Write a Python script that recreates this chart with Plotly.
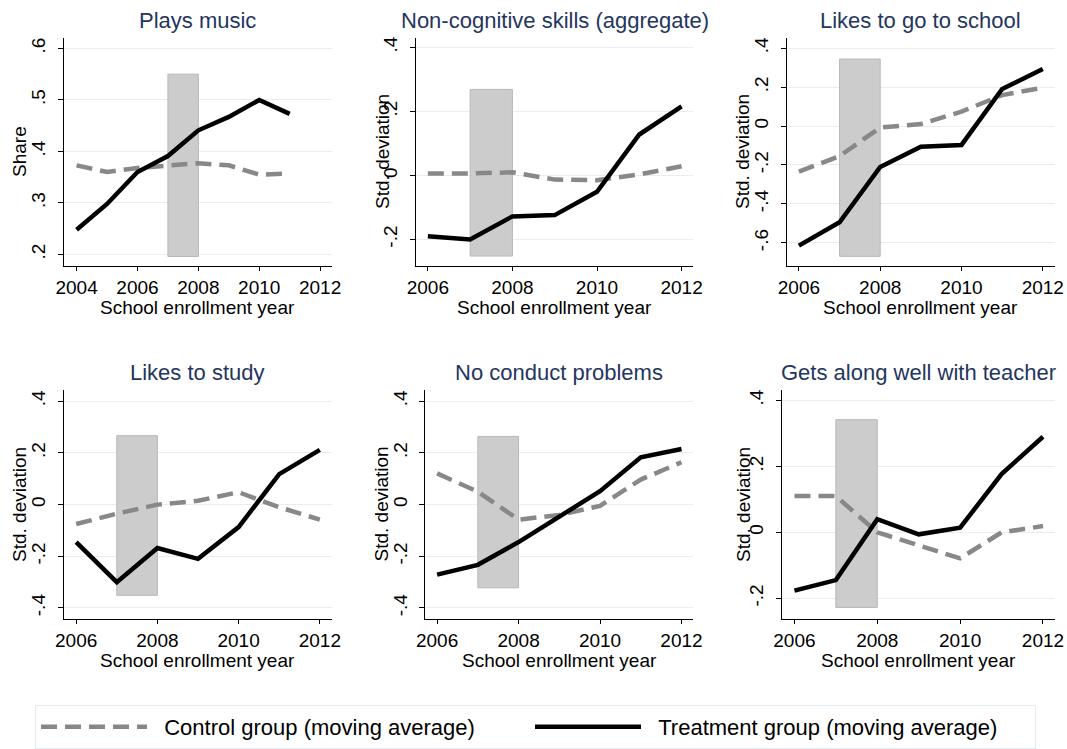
import plotly.graph_objects as go

W, H = 1067, 749

# ---- data ----
years_music = [2004, 2005, 2006, 2007, 2008, 2009, 2010, 2011]
years = [2006, 2007, 2008, 2009, 2010, 2011, 2012]

music_treat = [0.248, 0.298, 0.360, 0.391, 0.441, 0.467, 0.500, 0.473]
music_ctrl = [0.373, 0.360, 0.368, 0.372, 0.377, 0.373, 0.355, 0.357]

noncog_treat = [-0.190, -0.200, -0.128, -0.124, -0.051, 0.128, 0.216]
noncog_ctrl = [0.006, 0.006, 0.010, -0.013, -0.015, 0.003, 0.029]

school_treat = [-0.614, -0.494, -0.210, -0.106, -0.097, 0.190, 0.293]
school_ctrl = [-0.234, -0.154, -0.008, 0.010, 0.074, 0.159, 0.197]

study_treat = [-0.145, -0.300, -0.168, -0.210, -0.087, 0.118, 0.212]
study_ctrl = [-0.075, -0.035, 0.000, 0.015, 0.048, -0.010, -0.058]

conduct_treat = [-0.271, -0.233, -0.145, -0.049, 0.052, 0.183, 0.215]
conduct_ctrl = [0.121, 0.050, -0.058, -0.040, -0.005, 0.097, 0.164]

teacher_treat = [-0.177, -0.145, 0.040, -0.006, 0.014, 0.177, 0.290]
teacher_ctrl = [0.110, 0.110, 0.000, -0.040, -0.079, 0.000, 0.019]

titles = ["Plays music", "Non-cognitive skills (aggregate)", "Likes to go to school",
          "Likes to study", "No conduct problems", "Gets along well with teacher"]
ytitles = ["Share"] + ["Std. deviation"] * 5
series_names = ["Control group (moving average)", "Treatment group (moving average)"]

band_x = [2007, 2008]
band_lo = [0.196, -0.252, -0.669, -0.351, -0.322, -0.228]
band_hi = [0.550, 0.269, 0.344, 0.267, 0.264, 0.342]

yticks_music = [0.2, 0.3, 0.4, 0.5, 0.6]
yticks_a = [-0.2, 0, 0.2, 0.4]
yticks_b = [-0.6, -0.4, -0.2, 0, 0.2, 0.4]
yticks_c = [-0.4, -0.2, 0, 0.2, 0.4]
xticks_music = [2004, 2006, 2008, 2010, 2012]
xticks = [2006, 2008, 2010, 2012]

# ---- panel layout (pixel boxes of plot areas) ----
panels = [
    dict(x=years_music, t=music_treat, c=music_ctrl, box=(63.5, 332, 37.7, 267),
         xr=[2003.57, 2012.39], yr=[0.177, 0.621], yt=yticks_music, xt=xticks_music, ytx=43.5),
    dict(x=years, t=noncog_treat, c=noncog_ctrl, box=(416, 693, 37.7, 267),
         xr=[2005.72, 2012.27], yr=[-0.284, 0.431], yt=yticks_a, xt=xticks, ytx=33),
    dict(x=years, t=school_treat, c=school_ctrl, box=(786.7, 1055, 37.7, 267),
         xr=[2005.7, 2012.3], yr=[-0.72, 0.454], yt=yticks_b, xt=xticks, ytx=43.7),
    dict(x=years, t=study_treat, c=study_ctrl, box=(64, 332, 390.7, 621),
         xr=[2005.7, 2012.3], yr=[-0.444, 0.445], yt=yticks_c, xt=xticks, ytx=44.5),
    dict(x=years, t=conduct_treat, c=conduct_ctrl, box=(425.3, 693.3, 390.7, 621),
         xr=[2005.71, 2012.29], yr=[-0.444, 0.445], yt=yticks_c, xt=xticks, ytx=44.3),
    dict(x=years, t=teacher_treat, c=teacher_ctrl, box=(782, 1055, 390.7, 621),
         xr=[2005.70, 2012.29], yr=[-0.264, 0.433], yt=yticks_a, xt=xticks, ytx=38.5),
]

FONT = "Liberation Sans, Arial, sans-serif"
TITLE_COLOR = "#24365e"
GRID = "#e6eef1"


def stata_label(v):
    s = f"{v:g}"
    if s.startswith("0."):
        s = s[1:]
    elif s.startswith("-0."):
        s = "-" + s[2:]
    return s


fig = go.Figure()
annotations = []
shapes = []

for i, p in enumerate(panels):
    n = "" if i == 0 else str(i + 1)
    xa, ya = "x" + n, "y" + n
    first = i == 0
    fig.add_trace(go.Scatter(
        x=p["x"], y=p["c"], mode="lines", xaxis=xa, yaxis=ya,
        name="\u00a0\u00a0" + series_names[0], showlegend=first, legendrank=1,
        line=dict(color="#888888", width=4.5, dash="16px,8px")))
    fig.add_trace(go.Scatter(
        x=p["x"], y=p["t"], mode="lines", xaxis=xa, yaxis=ya,
        name="\u00a0\u00a0" + series_names[1], showlegend=first, legendrank=2,
        legendwidth=384, line=dict(color="black", width=4.5)))

    shapes.append(dict(type="rect", xref=xa, yref=ya, x0=band_x[0], x1=band_x[1],
                       y0=band_lo[i], y1=band_hi[i], fillcolor="#cccccc",
                       line=dict(color="#b8b8b8", width=1), layer="between"))

    x0, x1, y0, y1 = p["box"]
    fig.layout["xaxis" + n] = dict(
        domain=[x0 / W, x1 / W], anchor=ya, range=p["xr"], tickvals=p["xt"],
        ticks="outside", ticklen=4, tickcolor="black", showline=True, linecolor="black",
        linewidth=1, showgrid=False, zeroline=False, automargin=False,
        tickfont=dict(size=19, color="black"), ticklabelstandoff=0)
    fig.layout["yaxis" + n] = dict(
        domain=[1 - y1 / H, 1 - y0 / H], anchor=xa, range=p["yr"], tickvals=p["yt"],
        ticktext=[stata_label(v) for v in p["yt"]], tickangle=-90,
        ticks="outside", ticklen=5, tickcolor="black", showline=True, linecolor="black",
        linewidth=1, showgrid=True, gridcolor=GRID, gridwidth=1, zeroline=False,
        automargin=False, tickfont=dict(size=19, color="black"), ticklabelstandoff=5)

    dom_x = xa + " domain"
    dom_y = ya + " domain"
    annotations.append(dict(text=titles[i], xref=dom_x, yref=dom_y, x=0.5, y=1,
                            yshift=17, showarrow=False, xanchor="center", yanchor="middle",
                            font=dict(size=22, color=TITLE_COLOR)))
    annotations.append(dict(text="School enrollment year", xref=dom_x, yref=dom_y,
                            x=0.5, y=0, yshift=-41, showarrow=False, xanchor="center",
                            yanchor="middle", font=dict(size=19, color="black")))
    annotations.append(dict(text=ytitles[i], xref=dom_x, yref=dom_y, x=0, y=0.5,
                            xshift=-p["ytx"], showarrow=False, textangle=-90,
                            xanchor="center", yanchor="middle",
                            font=dict(size=19, color="black")))

fig.update_layout(
    width=W, height=H, margin=dict(l=0, r=0, t=0, b=0),
    template="none", paper_bgcolor="white", plot_bgcolor="white",
    font=dict(family=FONT, color="black"),
    shapes=shapes, annotations=annotations,
    legend=dict(orientation="h", x=35 / W, y=1 - 707 / H, xanchor="left", yanchor="top",
                bordercolor="#e3ebef", borderwidth=1, bgcolor="white",
                font=dict(size=22, color="black"), itemwidth=106,
                entrywidth=373, entrywidthmode="pixels"),
)

fig.write_html("out.html", config={"displayModeBar": False},
               post_script="document.body.style.margin='0';")
